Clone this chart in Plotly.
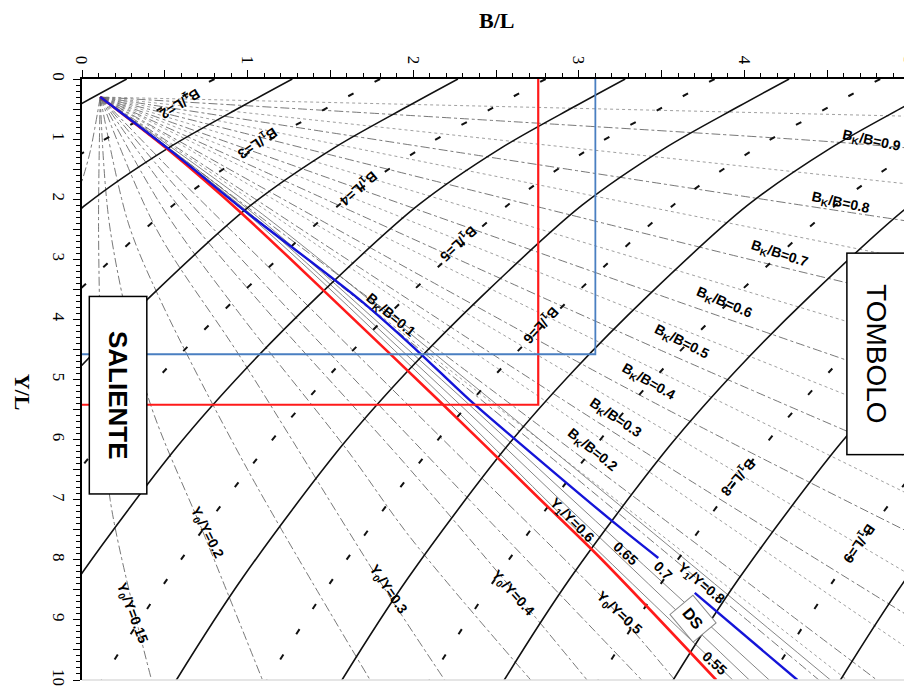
import plotly.graph_objects as go

# axis ticks (B/L across the top, Y/L down the left side)
x_tick_vals = [0, 0.5, 1, 1.5, 2, 2.5, 3, 3.5, 4, 4.5, 5]
x_tick_text = ["0", "", "1", "", "2", "", "3", "", "4", "", "5"]
y_tick_vals = [0, 0.5, 1, 1.5, 2, 2.5, 3, 3.5, 4, 4.5, 5, 5.5, 6, 6.5, 7, 7.5, 8, 8.5, 9, 9.5, 10]
y_tick_text = ["0", "", "1", "", "2", "", "3", "", "4", "", "5", "", "6", "", "7", "", "8", "", "9", "", "10"]

# point where the fan of thin lines starts
apex_x, apex_y = 0.11, 0.30

# solid arcs: one arc shape (offset from where it meets the top edge) + the top crossings
arc_dx = [0, -0.30, -0.75, -1.25, -1.85, -2.30, -2.70, -3.30, -3.70, -4.00]
arc_y = [0, 0.45, 1.15, 2.10, 3.60, 4.85, 6.10, 8.30, 10.0, 11.4]
solid_arc_tops = [0.27, 1.27, 2.27, 3.28, 4.27, 5.27, 6.25, 7.27, 8.28]
# dashed arcs (B1/L isolines) sit between the solid ones
dashed_arc_tops = [0.80, 1.80, 2.80, 3.82, 4.82, 5.80, 6.82, 7.85, 8.85]

# B1/L labels
b1_text = ["2", "3", "4", "5", "6", "8", "9"]
b1_x = [0.59, 1.06, 1.67, 2.27, 2.77, 3.96, 4.69]
b1_y = [0.40, 1.06, 1.81, 2.73, 4.09, 6.62, 7.72]
b1_angle = [148, 146, 139, 137, 133, 131, 125]

# Bk/B lines: point under the label and end point
bk_text = ["0.9", "0.8", "0.7", "0.6", "0.5", "0.4", "0.3", "0.2", "0.1"]
bk_label_x = [4.77, 4.58, 4.21, 3.88, 3.62, 3.42, 3.22, 3.08, 1.86]
bk_label_y = [1.03, 2.07, 2.91, 3.72, 4.38, 5.04, 5.64, 6.17, 3.93]
bk_label_angle = [12, 12, 18, 23, 27, 30, 34, 39, 40]
bk_mid_x = [4.40, 4.30, 4.00, 3.75, 3.50, 3.30, 3.12, 2.98, 1.86]
bk_mid_y = [1.02, 2.08, 2.98, 3.85, 4.52, 5.16, 5.72, 6.22, 4.10]
bk_end_x = [5.0, 5.0, 5.0, 5.0, 5.0, 5.0, 5.0, 4.80, 4.45]
bk_end_y = [1.15, 2.37, 3.64, 5.04, 6.31, 7.55, 8.95, 10.0, 10.0]
# unlabelled lines in between
bk_minor_end_x = [5.0, 5.0, 5.0, 5.0, 5.0, 5.0, 5.0, 5.0, 4.62]
bk_minor_end_y = [0.62, 1.75, 3.00, 4.35, 5.68, 6.92, 8.25, 9.50, 10.0]

# Y0/Y lines (steep, run to the bottom edge)
y0_x = [
    [0.11, 0.05, 0.00],
    [0.11, 0.10, 0.12, 0.17, 0.42],
    [0.11, 0.17, 0.40, 0.74, 1.09],
    [0.11, 0.28, 0.47, 1.00, 1.74],
    [0.11, 0.45, 0.95, 1.82, 2.19],
    [0.11, 0.50, 0.95, 1.60, 1.98, 2.71],
    [0.11, 0.55, 1.10, 1.95, 2.60, 3.05],
    [0.11, 0.60, 1.20, 2.20, 3.38],
    [0.11, 0.62, 1.30, 2.40, 3.22, 3.58],
]
y0_y = [
    [0.30, 1.20, 1.70],
    [0.30, 2.50, 5.00, 7.00, 10.0],
    [0.30, 2.50, 5.30, 7.60, 10.0],
    [0.30, 2.40, 3.66, 6.50, 10.0],
    [0.30, 2.50, 4.60, 8.45, 10.0],
    [0.30, 2.20, 3.90, 6.17, 7.62, 10.0],
    [0.30, 2.00, 3.80, 6.40, 8.50, 10.0],
    [0.30, 1.90, 3.70, 6.60, 10.0],
    [0.30, 1.75, 3.60, 6.60, 8.85, 10.0],
]
y0_text = ["0.15", "0.2", "0.3", "0.4", "0.5"]
y0_label_x = [0.30, 0.755, 1.85, 2.60, 3.24]
y0_label_y = [8.89, 7.55, 8.50, 8.55, 8.89]
y0_label_angle = [69, 63, 56, 48, 43]

# Y1/Y lines (between the red and the blue line)
y1_x = [
    [0.11, 1.00, 2.07, 2.93, 3.93],
    [0.11, 1.02, 2.12, 3.02, 4.03],
    [0.11, 1.04, 2.17, 3.10, 4.15],
    [0.11, 1.09, 2.32, 3.36, 4.52],
]
y1_y = [
    [0.30, 2.25, 5.00, 7.35, 10.0],
    [0.30, 2.25, 5.00, 7.35, 10.0],
    [0.30, 2.25, 5.00, 7.35, 10.0],
    [0.30, 2.25, 5.00, 7.35, 10.0],
]
y1_text = ["Y<sub>1</sub>/Y=0.6", "0.65", "0.7", "Y<sub>1</sub>/Y=0.8", "0.55"]
y1_label_x = [2.96, 3.28, 3.51, 3.74, 3.82]
y1_label_y = [7.35, 7.89, 8.19, 8.40, 9.72]
y1_label_angle = [45, 42, 45, 40, 42]

# red and blue design lines
red_diag_x = [0.11, 0.53, 0.97, 1.52, 2.17, 2.75, 3.13, 3.83]
red_diag_y = [0.30, 1.20, 2.25, 3.68, 5.39, 6.95, 7.97, 10.0]
blue_diag_x = [0.11, 0.53, 0.99, 1.68, 2.02, 2.34, 2.69, 3.23, 3.48]
blue_diag_y = [0.30, 1.18, 2.21, 3.68, 4.51, 5.34, 6.17, 7.42, 7.97]
blue_tail_x = [3.70, 4.32]
blue_tail_y = [8.55, 10.0]
red_bl, red_yl = 2.755, 5.42
blue_bl, blue_yl = 3.10, 4.58

fig = go.Figure()


def add_line(xs, ys, color, width, dash="solid", shape="spline"):
    fig.add_trace(go.Scatter(
        x=xs, y=ys, mode="lines", hoverinfo="skip", showlegend=False,
        line=dict(color=color, width=width, dash=dash, shape=shape, smoothing=0.9),
    ))


# thin fan lines
for i in range(len(bk_text)):
    add_line([apex_x, bk_mid_x[i], bk_end_x[i]], [apex_y, bk_mid_y[i], bk_end_y[i]],
             "#555555", 0.8, "dashdot")
for ex, ey in zip(bk_minor_end_x, bk_minor_end_y):
    add_line([apex_x, ex], [apex_y, ey], "#777777", 0.7, "dot", "linear")
for xs, ys in zip(y0_x, y0_y):
    add_line(xs, ys, "#555555", 0.8, "dashdot")
for xs, ys in zip(y1_x, y1_y):
    add_line(xs, ys, "#666666", 0.8, "solid")

# arcs
for top in dashed_arc_tops:
    add_line([top + d for d in arc_dx], arc_y, "#111111", 2.0, "6px,24px")
for top in solid_arc_tops:
    add_line([top + d for d in arc_dx], arc_y, "#111111", 1.6)

# red / blue construction lines
add_line(red_diag_x, red_diag_y, "#ff1a1a", 2.6)
add_line(blue_diag_x, blue_diag_y, "#1414d8", 2.4)
add_line(blue_tail_x, blue_tail_y, "#1414d8", 2.4, shape="linear")
add_line([red_bl, red_bl, -0.02], [0, red_yl, red_yl], "#ff1a1a", 2.2, shape="linear")
add_line([blue_bl, blue_bl, -0.02], [0, blue_yl, blue_yl], "#4a7fc1", 1.8, shape="linear")

lab_font = dict(family="Liberation Sans, Arial", size=14, color="black")

for t, x, y, a in zip(b1_text, b1_x, b1_y, b1_angle):
    fig.add_annotation(x=x, y=y, text="<b>B<sub>1</sub>/L=" + t + "</b>", textangle=a,
                       showarrow=False, font=lab_font)
for t, x, y, a in zip(bk_text, bk_label_x, bk_label_y, bk_label_angle):
    fig.add_annotation(x=x, y=y, text="<b>B<sub>K</sub>/B=" + t + "</b>", textangle=a,
                       showarrow=False, font=lab_font)
for t, x, y, a in zip(y0_text, y0_label_x, y0_label_y, y0_label_angle):
    fig.add_annotation(x=x, y=y, text="<b>Y<sub>0</sub>/Y=" + t + "</b>", textangle=a,
                       showarrow=False, font=lab_font)
for t, x, y, a in zip(y1_text, y1_label_x, y1_label_y, y1_label_angle):
    fig.add_annotation(x=x, y=y, text="<b>" + t + "</b>", textangle=a,
                       showarrow=False, font=lab_font)

fig.add_annotation(x=3.69, y=8.97, text="<b>DS</b>", textangle=50, showarrow=False,
                   font=dict(family="Liberation Sans, Arial", size=16, color="black"),
                   bordercolor="#888888", borderwidth=1, borderpad=6, bgcolor="white")
fig.add_annotation(x=0.22, y=5.26, text="<b>SALIENTE</b>", textangle=90, showarrow=False,
                   font=dict(family="Liberation Sans, Arial", size=26, color="black"),
                   width=194, height=54, bordercolor="black", borderwidth=1.5, bgcolor="white")
fig.add_annotation(x=4.80, y=4.58, text="TOMBOLO", textangle=90, showarrow=False,
                   font=dict(family="Liberation Sans, Arial", size=28, color="black"),
                   width=198, height=56, bordercolor="black", borderwidth=1.5, bgcolor="white")

# axis titles
fig.add_annotation(xref="paper", yref="paper", x=0.5, y=1.098, xanchor="center", yanchor="middle",
                   text="<b>B/L</b>", showarrow=False,
                   font=dict(family="Liberation Serif, Times New Roman", size=22, color="black"))
fig.add_annotation(xref="paper", yref="paper", x=-0.0725, y=0.478, xanchor="center",
                   yanchor="middle", text="<b>Y/L</b>", textangle=90, showarrow=False,
                   font=dict(family="Liberation Serif, Times New Roman", size=22, color="black"))

# right and bottom frame
fig.add_shape(type="line", xref="paper", yref="paper", x0=1, x1=1, y0=0, y1=1,
              line=dict(color="#999999", width=1))
fig.add_shape(type="line", xref="paper", yref="paper", x0=0, x1=1, y0=0, y1=0,
              line=dict(color="#dddddd", width=1.5))

tick_font = dict(family="Liberation Serif, Times New Roman", size=17, color="black")
fig.update_xaxes(
    range=[0, 5], side="top", showgrid=False, zeroline=False, automargin=False,
    tickvals=x_tick_vals, ticktext=x_tick_text, tickangle=90, tickfont=tick_font,
    ticks="outside", ticklen=7, tickwidth=1.2, tickcolor="black",
    minor=dict(dtick=0.1, ticks="outside", ticklen=4, tickcolor="black"),
    showline=True, linecolor="black", linewidth=1.5,
)
fig.update_yaxes(
    range=[10, 0], showgrid=False, zeroline=False, automargin=False,
    tickvals=y_tick_vals, ticktext=y_tick_text, tickangle=90, tickfont=tick_font,
    ticks="outside", ticklen=7, tickwidth=1.2, tickcolor="black",
    minor=dict(dtick=0.1, ticks="outside", ticklen=4, tickcolor="black"),
    showline=True, linecolor="black", linewidth=1.5,
)
# the page adds an 8px body margin, so the plot box is shifted back by that amount
fig.update_layout(
    width=912, height=688,
    margin=dict(l=74, r=10, t=71, b=16),
    paper_bgcolor="white", plot_bgcolor="white",
    showlegend=False,
)

fig.write_html("out.html")
